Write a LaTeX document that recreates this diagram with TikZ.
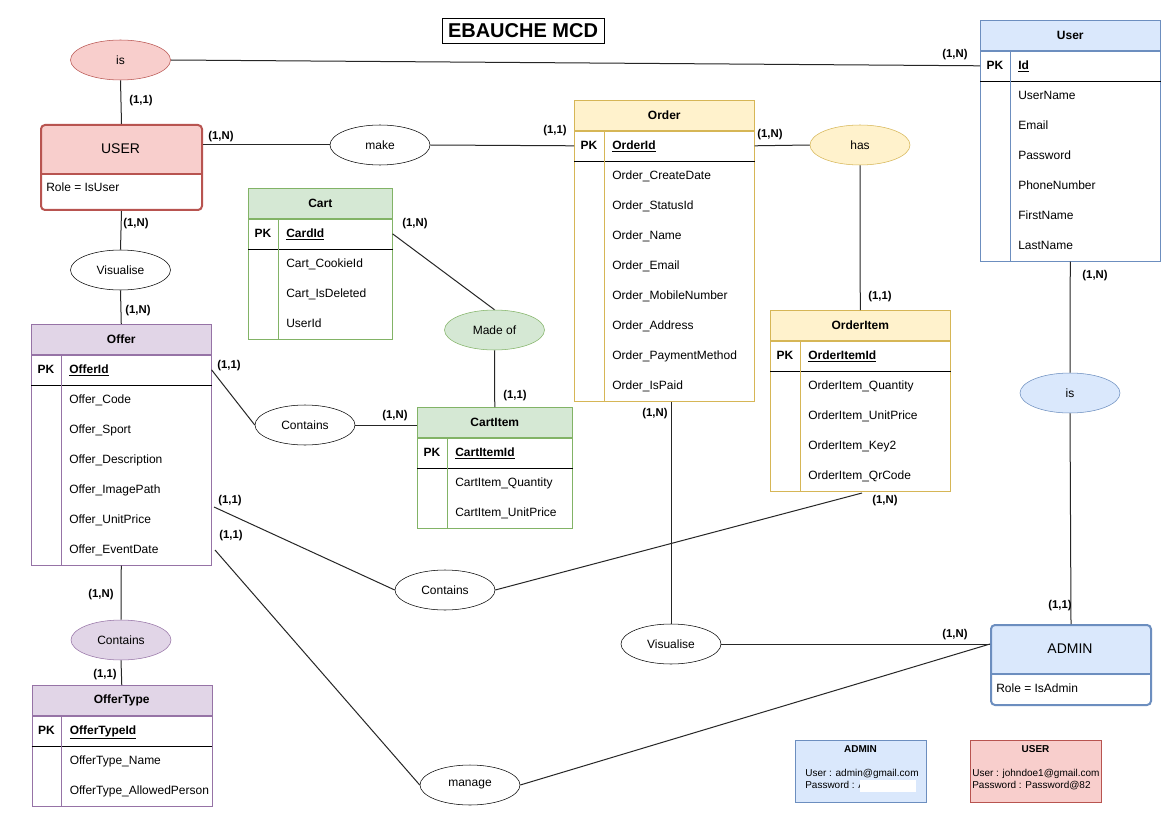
\documentclass[tikz,border=0pt]{standalone}
\usepackage{fontspec}
\setmainfont{Liberation Sans}
\usepackage{tikz}
\usetikzlibrary{positioning,shapes.geometric,calc}
\definecolor{rfill}{HTML}{F8CECC}
\definecolor{rline}{HTML}{B85450}
\definecolor{bfill}{HTML}{DAE8FC}
\definecolor{bline}{HTML}{6C8EBF}
\definecolor{yfill}{HTML}{FFF2CC}
\definecolor{yline}{HTML}{D6B656}
\definecolor{gfill}{HTML}{D5E8D4}
\definecolor{gline}{HTML}{82B366}
\definecolor{pfill}{HTML}{E1D5E7}
\definecolor{pline}{HTML}{9673A6}

\begin{document}
\begin{tikzpicture}[x=0.75pt,y=-0.75pt,
  thead/.style={draw,anchor=north west,minimum height=22.5pt,inner sep=0pt,font=\fontsize{9}{11}\selectfont\bfseries},
  tbox/.style={draw,inner sep=0pt},
  attr/.style={anchor=west,inner sep=0pt,text height=6.5pt,text depth=0pt,font=\fontsize{9}{11}\selectfont},
  key/.style={attr,font=\fontsize{9}{11}\selectfont\bfseries},
  pk/.style={inner sep=0pt,text height=6.5pt,text depth=0pt,font=\fontsize{9}{11}\selectfont\bfseries},
  rel/.style={ellipse,draw,fill=white,minimum width=75pt,minimum height=30pt,inner sep=0pt,font=\fontsize{9}{11}\selectfont},
  ent/.style={draw,line width=1.5pt,rounded corners=3pt,anchor=north west,inner sep=0pt,fill=white},
  card/.style={inner sep=0pt,text height=6pt,text depth=0pt,font=\fontsize{8.5}{10}\selectfont\bfseries},
  link/.style={draw=black!85,line width=0.75pt},
  info/.style={draw,anchor=north west,inner sep=0pt,minimum width=98.25pt,minimum height=46.5pt},
  small/.style={anchor=west,inner sep=0pt,text height=5.5pt,text depth=0pt,font=\fontsize{7.5}{9}\selectfont}]
  \path[use as bounding box,fill=white] (0,0) rectangle (1169,827);

  % title
  \node[draw,minimum width=121.5pt,minimum height=18.75pt,inner sep=0pt,font=\fontsize{15}{18}\selectfont\bfseries] (title) at (523,30.5) {EBAUCHE MCD};

  % USER entity
  \node[ent,draw=rline,minimum width=120.75pt,minimum height=63.75pt,
    path picture={\fill[rfill] (path picture bounding box.north west) rectangle ([yshift=-37.5pt]path picture bounding box.north east);}] (userent) at (40,124) {};
  \draw[rline,line width=1.5pt] ([yshift=-37.5pt]userent.north west) -- ([yshift=-37.5pt]userent.north east);
  \node[font=\fontsize{10.5}{12}\selectfont] (usertxt) at (120.5,149) {USER};
  \node[attr] (userrole) at (46,187) {Role = IsUser};

  % ADMIN entity
  \node[ent,draw=bline,minimum width=120pt,minimum height=60pt,
    path picture={\fill[bfill] (path picture bounding box.north west) rectangle ([yshift=-37.5pt]path picture bounding box.north east);}] (admin) at (990,624) {};
  \draw[bline,line width=1.5pt] ([yshift=-37.5pt]admin.north west) -- ([yshift=-37.5pt]admin.north east);
  \node[font=\fontsize{10.5}{12}\selectfont] (admintxt) at (1070,649) {ADMIN};
  \node[attr] (adminrole) at (996,688) {Role = IsAdmin};

  % User table
  \node[thead,fill=bfill,draw=bline,minimum width=135pt] (user) at (980,20) {User};
  \node[tbox,draw=bline,minimum width=135pt,minimum height=22.5pt,below=0pt of user] (userpk) {};
  \node[tbox,draw=bline,minimum width=135pt,minimum height=135pt,below=0pt of userpk] (userbody) {};
  \draw (userpk.south west) -- (userpk.south east);
  \draw[bline] ([xshift=22.5pt]userpk.north west) -- ([xshift=22.5pt]userbody.south west);
  \node[pk] (userpkl) at (995,65) {PK};
  \node[key] (userid) at (1018,65) {\underline{Id}};
  \node[attr] (u1) at (1018,95) {UserName};
  \node[attr] (u2) at (1018,125) {Email};
  \node[attr] (u3) at (1018,155) {Password};
  \node[attr] (u4) at (1018,185) {PhoneNumber};
  \node[attr] (u5) at (1018,215) {FirstName};
  \node[attr] (u6) at (1018,245) {LastName};

  % Order table
  \node[thead,fill=yfill,draw=yline,minimum width=135pt] (order) at (574,100) {Order};
  \node[tbox,draw=yline,minimum width=135pt,minimum height=22.5pt,below=0pt of order] (orderpk) {};
  \node[tbox,draw=yline,minimum width=135pt,minimum height=180pt,below=0pt of orderpk] (orderbody) {};
  \draw (orderpk.south west) -- (orderpk.south east);
  \draw[yline] ([xshift=22.5pt]orderpk.north west) -- ([xshift=22.5pt]orderbody.south west);
  \node[pk] (orderpkl) at (589,145) {PK};
  \node[key] (orderid) at (612,145) {\underline{OrderId}};
  \node[attr] (o1) at (612,175) {Order\_CreateDate};
  \node[attr] (o2) at (612,205) {Order\_StatusId};
  \node[attr] (o3) at (612,235) {Order\_Name};
  \node[attr] (o4) at (612,265) {Order\_Email};
  \node[attr] (o5) at (612,295) {Order\_MobileNumber};
  \node[attr] (o6) at (612,325) {Order\_Address};
  \node[attr] (o7) at (612,355) {Order\_PaymentMethod};
  \node[attr] (o8) at (612,385) {Order\_IsPaid};

  % OrderItem table
  \node[thead,fill=yfill,draw=yline,minimum width=135pt] (orderitem) at (770,310) {OrderItem};
  \node[tbox,draw=yline,minimum width=135pt,minimum height=22.5pt,below=0pt of orderitem] (orderitempk) {};
  \node[tbox,draw=yline,minimum width=135pt,minimum height=90pt,below=0pt of orderitempk] (orderitembody) {};
  \draw (orderitempk.south west) -- (orderitempk.south east);
  \draw[yline] ([xshift=22.5pt]orderitempk.north west) -- ([xshift=22.5pt]orderitembody.south west);
  \node[pk] (orderitempkl) at (785,355) {PK};
  \node[key] (orderitemid) at (808,355) {\underline{OrderItemId}};
  \node[attr] (oi1) at (808,385) {OrderItem\_Quantity};
  \node[attr] (oi2) at (808,415) {OrderItem\_UnitPrice};
  \node[attr] (oi3) at (808,445) {OrderItem\_Key2};
  \node[attr] (oi4) at (808,475) {OrderItem\_QrCode};

  % Offer table
  \node[thead,fill=pfill,draw=pline,minimum width=135pt] (offer) at (31,324) {Offer};
  \node[tbox,draw=pline,minimum width=135pt,minimum height=22.5pt,below=0pt of offer] (offerpk) {};
  \node[tbox,draw=pline,minimum width=135pt,minimum height=135pt,below=0pt of offerpk] (offerbody) {};
  \draw (offerpk.south west) -- (offerpk.south east);
  \draw[pline] ([xshift=22.5pt]offerpk.north west) -- ([xshift=22.5pt]offerbody.south west);
  \node[pk] (offerpkl) at (46,369) {PK};
  \node[key] (offerid) at (69,369) {\underline{OfferId}};
  \node[attr] (of1) at (69,399) {Offer\_Code};
  \node[attr] (of2) at (69,429) {Offer\_Sport};
  \node[attr] (of3) at (69,459) {Offer\_Description};
  \node[attr] (of4) at (69,489) {Offer\_ImagePath};
  \node[attr] (of5) at (69,519) {Offer\_UnitPrice};
  \node[attr] (of6) at (69,549) {Offer\_EventDate};

  % OfferType table
  \node[thead,fill=pfill,draw=pline,minimum width=135pt] (offertype) at (31.5,685) {OfferType};
  \node[tbox,draw=pline,minimum width=135pt,minimum height=22.5pt,below=0pt of offertype] (offertypepk) {};
  \node[tbox,draw=pline,minimum width=135pt,minimum height=45pt,below=0pt of offertypepk] (offertypebody) {};
  \draw (offertypepk.south west) -- (offertypepk.south east);
  \draw[pline] ([xshift=22.5pt]offertypepk.north west) -- ([xshift=22.5pt]offertypebody.south west);
  \node[pk] (offertypepkl) at (46.5,730) {PK};
  \node[key] (offertypeid) at (69.5,730) {\underline{OfferTypeId}};
  \node[attr] (ot1) at (69.5,760) {OfferType\_Name};
  \node[attr] (ot2) at (69.5,790) {OfferType\_AllowedPerson};

  % Cart table
  \node[thead,fill=gfill,draw=gline,minimum width=108pt] (cart) at (248,188) {Cart};
  \node[tbox,draw=gline,minimum width=108pt,minimum height=22.5pt,below=0pt of cart] (cartpk) {};
  \node[tbox,draw=gline,minimum width=108pt,minimum height=67.5pt,below=0pt of cartpk] (cartbody) {};
  \draw (cartpk.south west) -- (cartpk.south east);
  \draw[gline] ([xshift=22.5pt]cartpk.north west) -- ([xshift=22.5pt]cartbody.south west);
  \node[pk] (cartpkl) at (263,233) {PK};
  \node[key] (cartid) at (286,233) {\underline{CardId}};
  \node[attr] (ca1) at (286,263) {Cart\_CookieId};
  \node[attr] (ca2) at (286,293) {Cart\_IsDeleted};
  \node[attr] (ca3) at (286,323) {UserId};

  % CartItem table
  \node[thead,fill=gfill,draw=gline,minimum width=116.25pt] (cartitem) at (417,407) {CartItem};
  \node[tbox,draw=gline,minimum width=116.25pt,minimum height=22.5pt,below=0pt of cartitem] (cartitempk) {};
  \node[tbox,draw=gline,minimum width=116.25pt,minimum height=45pt,below=0pt of cartitempk] (cartitembody) {};
  \draw (cartitempk.south west) -- (cartitempk.south east);
  \draw[gline] ([xshift=22.5pt]cartitempk.north west) -- ([xshift=22.5pt]cartitembody.south west);
  \node[pk] (cartitempkl) at (432,452) {PK};
  \node[key] (cartitemid) at (455,452) {\underline{CartItemId}};
  \node[attr] (ci1) at (455,482) {CartItem\_Quantity};
  \node[attr] (ci2) at (455,512) {CartItem\_UnitPrice};

  % relations
  \node[rel,fill=rfill,draw=rline] (isu) at (120.5,60) {is};
  \node[rel] (make) at (380,145) {make};
  \node[rel,fill=yfill,draw=yline] (has) at (860,145) {has};
  \node[rel] (visu) at (120.5,270) {Visualise};
  \node[rel,fill=gfill,draw=gline] (madeof) at (494.5,330) {Made of};
  \node[rel] (contc) at (305,425) {Contains};
  \node[rel] (conto) at (445,590) {Contains};
  \node[rel,fill=pfill,draw=pline] (contp) at (121,640) {Contains};
  \node[rel] (manage) at (470,785) {manage};
  \node[rel] (visb) at (671,644) {Visualise};
  \node[rel,fill=bfill,draw=bline] (isa) at (1070,393) {is};

  % connectors
  \coordinate (ofree1) at (214,507);
  \coordinate (ofree2) at (215,550);
  \coordinate (oifree) at (862,493);
  \draw[link] (isu.east) -- (userpk.west);
  \draw[link] (isu.south) -- (userent.north);
  \draw[link] (userent.east |- make.west) -- (make.west);
  \draw[link] (make.east) -- (orderpk.west);
  \draw[link] (orderpk.east) -- (has.west);
  \draw[link] (has.south) -- (orderitem.north);
  \draw[link] (userent.south) -- (visu.north);
  \draw[link] (visu.south) -- (offer.north);
  \draw[link] (offerbody.south) -- (contp.north);
  \draw[link] (contp.south) -- (offertype.north);
  \draw[link] (offerpk.east) -- (contc.west);
  \draw[link] (contc.east) -- (contc.east -| cartitem.west);
  \draw[link] (cartpk.east) -- (madeof.north);
  \draw[link] (madeof.south) -- (cartitem.north);
  \draw[link] (ofree1) -- (conto.west);
  \draw[link] (conto.east) -- (oifree);
  \draw[link] (ofree2) -- (manage.west);
  \draw[link] (manage.east) -- (visb.east -| admin.west);
  \draw[link] (visb.north |- orderbody.south) -- (visb.north);
  \draw[link] (visb.east) -- (visb.east -| admin.west);
  \draw[link] (userbody.south) -- (isa.north);
  \draw[link] (isa.south) -- (admin.north);

  % cardinalities
  \node[card] (c1) at (141,100) {(1,1)};
  \node[card] (c2) at (221,136) {(1,N)};
  \node[card] (c3) at (136,223) {(1,N)};
  \node[card] (c4) at (138,309) {(1,N)};
  \node[card] (c5) at (955,54) {(1,N)};
  \node[card] (c6) at (555,130) {(1,1)};
  \node[card] (c7) at (770,134) {(1,N)};
  \node[card] (c8) at (880,295) {(1,1)};
  \node[card] (c9) at (655,412) {(1,N)};
  \node[card] (c10) at (885,499) {(1,N)};
  \node[card] (c11) at (1095,274) {(1,N)};
  \node[card] (c12) at (1060,604) {(1,1)};
  \node[card] (c13) at (955,633) {(1,N)};
  \node[card] (c14) at (415,223) {(1,N)};
  \node[card] (c15) at (515,394) {(1,1)};
  \node[card] (c16) at (395,414) {(1,N)};
  \node[card] (c17) at (229,364) {(1,1)};
  \node[card] (c18) at (230,499) {(1,1)};
  \node[card] (c19) at (231,534) {(1,1)};
  \node[card] (c20) at (101,593) {(1,N)};
  \node[card] (c21) at (105,673) {(1,1)};

  % accounts
  \node[info,fill=bfill,draw=bline] (admininfo) at (795,740) {};
  \node[inner sep=0pt,text height=5.5pt,text depth=0pt,font=\fontsize{7.5}{9}\selectfont\bfseries] (admininfot) at (860.5,749) {ADMIN};
  \node[small] (admininfo1) at (805,773) {User : admin@gmail.com};
  \node[small] (admininfo2) at (805,785) {Password : A};
  \fill[white] (860,780) rectangle (916,792);
  \node[info,fill=rfill,draw=rline] (userinfo) at (970,740) {};
  \node[inner sep=0pt,text height=5.5pt,text depth=0pt,font=\fontsize{7.5}{9}\selectfont\bfseries] (userinfot) at (1035.5,749) {USER};
  \node[small] (userinfo1) at (972,773) {User : johndoe1@gmail.com};
  \node[small] (userinfo2) at (972,785) {Password : Password@82};
\end{tikzpicture}
\end{document}
